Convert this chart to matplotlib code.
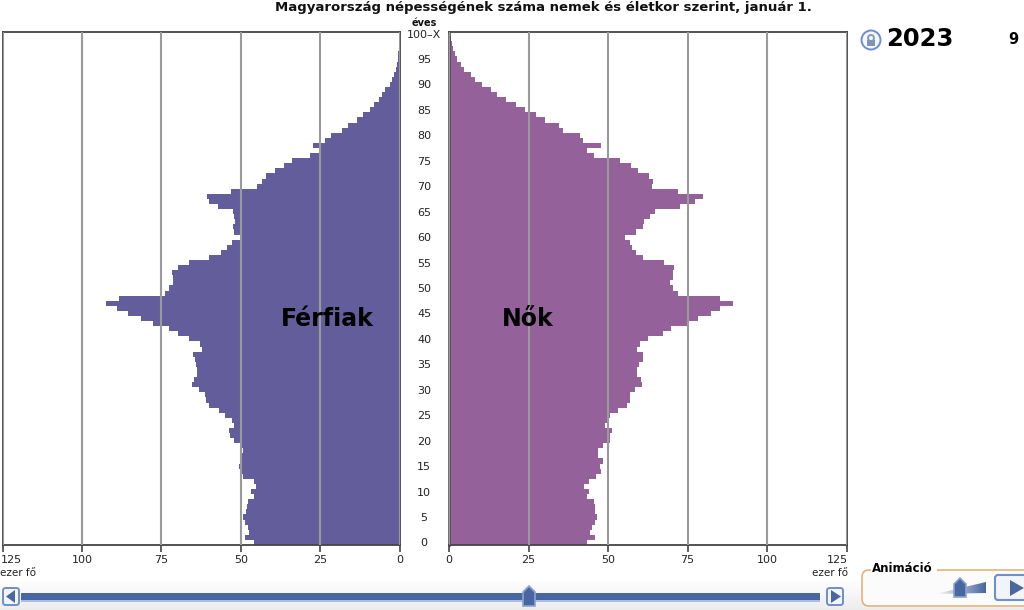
import numpy as np
import matplotlib
matplotlib.use("Agg")
import matplotlib.pyplot as plt
from matplotlib.patches import FancyBboxPatch, Polygon, Circle, Rectangle

plt.rcParams['font.family'] = ['DejaVu Sans']

ages = list(range(101))
# values listed from age 0 upward (thousand persons)
men = [46, 48.8, 47.4, 47.6, 48.6, 49.2, 48.4, 48.1, 47.8, 45.8,
       46.9, 45.3, 46, 49.2, 50.4, 50.6, 50, 50, 49.4, 50.4,
       52.3, 53.4, 53.8, 52.2, 52.9, 54.9, 56.9, 59.9, 61.1, 61.2,
       63.3, 65.4, 64.7, 63.8, 63.8, 64, 64.4, 65.1, 62.2, 62.8,
       66.2, 69.8, 72.5, 77.7, 81.4, 85.6, 89, 92.3, 88.2, 73.9,
       72.6, 71.4, 71.4, 71.6, 69.8, 66.4, 59.9, 56.3, 54.5, 52.8,
       50.2, 52.2, 52.4, 51.8, 52.2, 52.5, 57.2, 60, 60.7, 53.2,
       45, 43.3, 42.2, 39.3, 36.5, 33.8, 28.2, 25.1, 27.2, 23.5,
       21.5, 18.2, 16.2, 13.3, 11.5, 9.5, 8, 6.6, 5.5, 4.5,
       3.2, 2.5, 1.8, 1.3, 0.9, 0.6, 0.4, 0.3, 0.2, 0.1, 0.05]
women = [43.4, 45.9, 44.4, 44.9, 45.9, 46.5, 46, 45.8, 45.5, 43.4,
         43.9, 42.6, 43.9, 46.2, 47.8, 47.4, 48.3, 46.9, 46.9, 48.4,
         50.5, 50.7, 51.3, 49.2, 50.2, 50.7, 53.1, 55.9, 57, 57,
         58.6, 60.8, 60.5, 59.1, 59.1, 59.6, 61, 61, 59.1, 60,
         62.5, 67.3, 69.9, 74.8, 78.3, 82.5, 85.3, 89.2, 85.3, 72.1,
         70.4, 69.6, 70.4, 70.4, 70.6, 67.6, 61.1, 58.7, 57.5, 56.8,
         55.2, 58.8, 61, 61.2, 63.2, 64.7, 72.7, 77.4, 79.9, 72.1,
         63.8, 64.3, 62.8, 59.3, 57.2, 53.7, 45.6, 43.4, 47.8, 42.1,
         41.2, 36, 34.6, 30.2, 27.3, 24, 21, 18, 15.1, 13.3,
         10.5, 8.3, 6.9, 4.8, 3.8, 2.4, 1.9, 1.2, 0.8, 0.5, 0.3]
x_ticks = [0, 25, 50, 75, 100, 125]
x_labels = ['0', '25', '50', '75', '100', '']
age_ticks = [0, 5, 10, 15, 20, 25, 30, 35, 40, 45, 50, 55, 60, 65, 70, 75, 80, 85, 90, 95, 100]
age_labels = [str(a) for a in age_ticks[:-1]] + ['100\u2013X']

MEN_C = '#635E9B'
WOMEN_C = '#94619A'
GRID = '#9a9a9a'
SPINE = '#444444'
TXT = '#222222'
W, H = 1024, 610

fig = plt.figure(figsize=(W / 100, H / 100), dpi=100, facecolor='white')

def pxaxes(x0, y0, x1, y1, **kw):
    return fig.add_axes([x0 / W, 1 - y1 / H, (x1 - x0) / W, (y1 - y0) / H], **kw)

# background strip at the bottom
bg = pxaxes(0, 0, W, H, zorder=0)
bg.set_axis_off()
grad = np.linspace(1, 0.925, 32).reshape(-1, 1)
bg.imshow(grad, extent=(0, W, 610, 578), cmap='gray', vmin=0, vmax=1, aspect='auto')
bg.set_xlim(0, W); bg.set_ylim(H, 0)

axL = pxaxes(2.5, 32, 399.7, 545, zorder=2)
axR = pxaxes(449, 32, 846.5, 545, zorder=2)

for ax, vals, col in ((axL, men, MEN_C), (axR, women, WOMEN_C)):
    ax.barh(ages, vals, height=1.0, color=col, linewidth=0, zorder=2)
    ax.set_ylim(-0.5, 100.3)
    ax.set_xticks(x_ticks)
    ax.set_xticklabels(x_labels)
    ax.grid(axis='x', color=GRID, lw=1.5, zorder=3)
    ax.set_axisbelow(False)
    ax.tick_params(axis='x', length=5, width=1.2, color=SPINE, labelsize=8,
                   labelcolor=TXT, pad=2)
    for s in ax.spines.values():
        s.set_color(SPINE); s.set_linewidth(1.3)

axL.set_xlim(125, 0)
axR.set_xlim(0, 125)
axL.set_yticks([])
axR.set_yticks(age_ticks)
axR.set_yticklabels(age_labels)
axR.tick_params(axis='y', length=0, labelsize=8, labelcolor=TXT, pad=18)
for lab in axR.get_yticklabels():
    lab.set_ha('center')
    lab.set_va('center_baseline')
axR.spines['left'].set_linewidth(1.8)

# overlay in pixel coordinates
ov = pxaxes(0, 0, W, H, zorder=5)
ov.set_axis_off()
ov.patch.set_alpha(0)

ov.text(543, 8, 'Magyarország népességének száma nemek és életkor szerint, január 1.',
        ha='center', va='center', fontsize=9.5, fontweight='bold', color='#111111')
ov.text(424, 23, 'éves', ha='center', va='center', fontsize=7, fontweight='bold', color='#111111')
ov.text(327, 319, 'Férfiak', ha='center', va='center', fontsize=17, fontweight='bold', color='black')
ov.text(528, 319, 'Nők', ha='center', va='center', fontsize=17, fontweight='bold', color='black')
ov.text(0.5, 560, '125', ha='left', va='center', fontsize=8, color=TXT)
ov.text(848, 560, '125', ha='right', va='center', fontsize=8, color=TXT)
ov.text(0.5, 573, 'ezer fő', ha='left', va='center', fontsize=7.5, color=TXT)
ov.text(848, 573, 'ezer fő', ha='right', va='center', fontsize=7.5, color=TXT)
ov.text(886, 39, '2023', ha='left', va='center', fontsize=17.5, fontweight='bold', color='black')
ov.text(1013, 40, '9', ha='center', va='center', fontsize=10.5, fontweight='bold', color='black')

BLUE = '#4A66A0'
# lock icon
ov.add_patch(Circle((871, 40), 9.5, fc='#f4f7fd', ec='#6f8fcb', lw=1.4))
ov.add_patch(Rectangle((867, 39.5), 8, 6.5, fc='#7f93bd', ec='none'))
ov.add_patch(Circle((871, 38), 3, fc='none', ec='#7f93bd', lw=1.3))

# scrollbar
ov.add_patch(Rectangle((21, 593), 799, 7, fc=BLUE, ec='none'))
ov.add_patch(Rectangle((21, 600), 799, 1.5, fc='#a9bde6', ec='none'))
for x0, tri in ((2, [(15, 590), (15, 603), (6, 596.5)]), (826, [(831, 590), (831, 603), (841, 596.5)])):
    ov.add_patch(FancyBboxPatch((x0 + 1, 588), 16, 17, boxstyle='round,pad=0,rounding_size=2.5',
                                fc='#f2f4f8', ec='#6f8fcb', lw=1.4))
    ov.add_patch(Polygon(tri, closed=True, fc=BLUE, ec='none'))
ov.add_patch(Polygon([(523, 592), (529, 586), (535, 592), (535, 606), (523, 606)], closed=True,
                     fc=BLUE, ec='#8ba3d3', lw=1.2))

# animation panel
ov.add_patch(FancyBboxPatch((862, 570), 170, 36, boxstyle='round,pad=0,rounding_size=7',
                            fc='#fbfbfb', ec='#E8B27A', lw=1.2))
ov.add_patch(Rectangle((871, 564), 66, 9, fc='white', ec='none'))
ov.text(872, 569, 'Animáció', ha='left', va='center', fontsize=8.5, fontweight='bold', color='black')
wedge = ov.imshow(np.linspace(0, 1, 60).reshape(1, -1), extent=(935, 986, 596, 582),
                  cmap=matplotlib.colors.LinearSegmentedColormap.from_list('w', ['#ffffff', BLUE]),
                  aspect='auto', zorder=3)
wedge.set_clip_path(Polygon([(935, 594), (986, 582), (986, 593)], closed=True, transform=ov.transData))
ov.add_patch(Polygon([(954, 584), (960, 578), (966, 584), (966, 597), (954, 597)], closed=True,
                     fc=BLUE, ec='#8ba3d3', lw=1.2, zorder=4))
ov.add_patch(FancyBboxPatch((995, 575), 40, 25, boxstyle='round,pad=0,rounding_size=3',
                            fc='#f2f4f8', ec='#6f8fcb', lw=1.5, zorder=4))
ov.add_patch(Polygon([(1010, 580), (1010, 596), (1024, 588)], closed=True, fc=BLUE, ec='none', zorder=5))
ov.set_xlim(0, W); ov.set_ylim(H, 0)

fig.savefig('out.png', dpi=100)
